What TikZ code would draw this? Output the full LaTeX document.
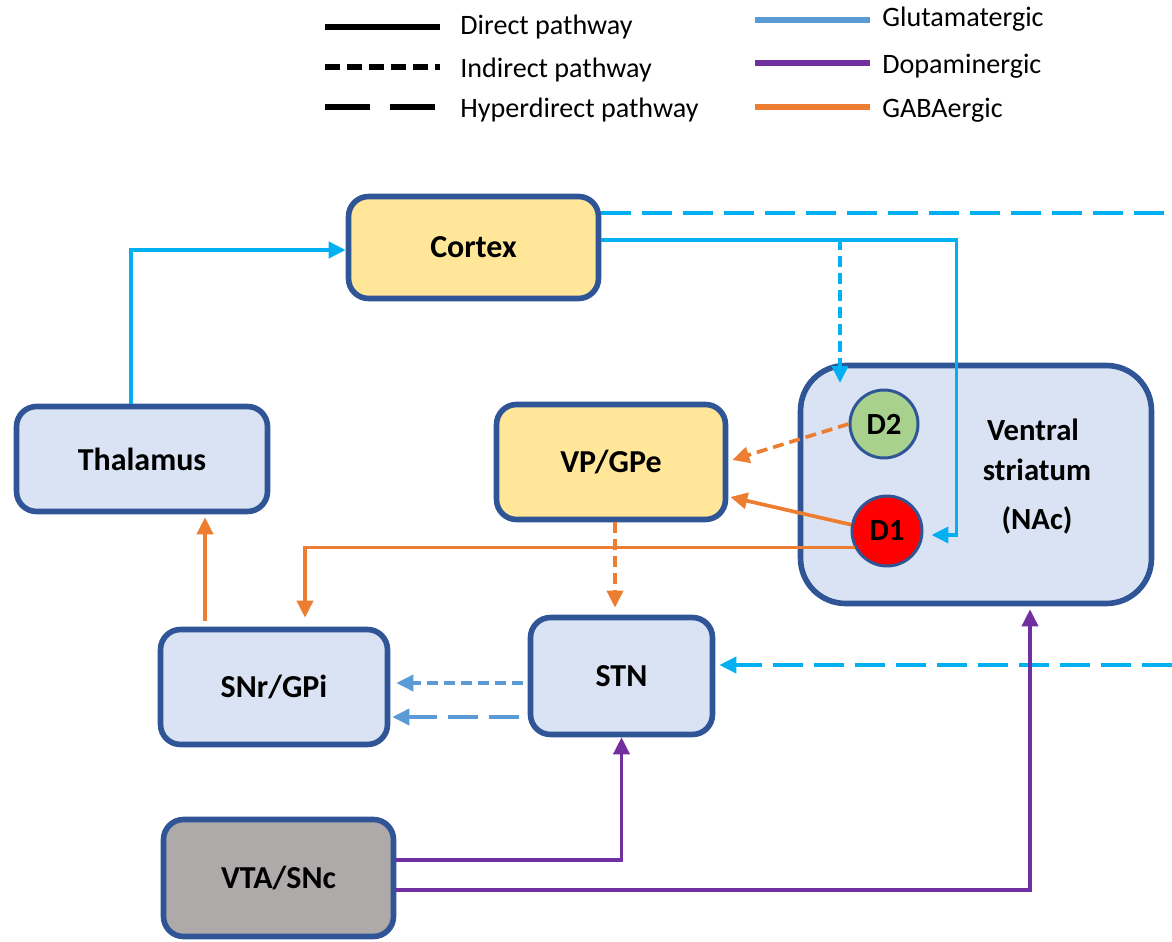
\documentclass[tikz,border=0pt]{standalone}
\usepackage{fontspec}
\setmainfont{Carlito}
\usetikzlibrary{arrows.meta,calc}
\definecolor{glut}{HTML}{00B0F0}
\definecolor{glutlight}{HTML}{5B9BD5}
\definecolor{dopa}{HTML}{7030A0}
\definecolor{gaba}{HTML}{ED7D31}
\definecolor{boxline}{HTML}{2F5597}
\definecolor{bluefill}{HTML}{DAE3F3}
\definecolor{yellowfill}{HTML}{FFE699}
\definecolor{grayfill}{HTML}{AEAAAA}
\definecolor{greenfill}{HTML}{A9D18E}
\definecolor{redfill}{HTML}{FF0000}
\begin{document}
\begin{tikzpicture}[x=0.02cm,y=-0.02cm,
  box/.style={draw=boxline, line width=3.2pt, rounded corners=0.4cm,
    font=\fontsize{18.2}{21}\selectfont\bfseries, align=center, inner sep=0pt},
  receptor/.style={circle, draw=boxline, line width=1.7pt, inner sep=0pt,
    font=\fontsize{17.5}{20}\selectfont\bfseries},
  label/.style={font=\fontsize{17.5}{20}\selectfont\bfseries, inner sep=0pt},
  legendtext/.style={anchor=west, font=\fontsize{16}{18}\selectfont, inner sep=0pt},
  legendline/.style={line width=3pt},
  conn/.style={line width=2.1pt, -{Triangle[length=0.34cm,width=0.32cm]}},
  shortdash/.style={dash pattern=on 0.22cm off 0.12cm},
  longdash/.style={dash pattern=on 0.6cm off 0.22cm}]

\useasboundingbox (0,0) rectangle (1172,942);

% legend
\node[legendtext] (lgdirect) at (460,27) {Direct pathway};
\node[legendtext] (lgindirect) at (460,70) {Indirect pathway};
\node[legendtext] (lghyper) at (460,110) {Hyperdirect pathway};
\node[legendtext] (lgglut) at (882,19) {Glutamatergic};
\node[legendtext] (lgdopa) at (882,66) {Dopaminergic};
\node[legendtext] (lggaba) at (882,110) {GABAergic};
\draw[legendline] ($(lgdirect.west)+(-135,0)$) -- ($(lgdirect.west)+(-20,0)$);
\draw[legendline, dash pattern=on 0.3cm off 0.14cm] ($(lgindirect.west)+(-135,-3)$) -- ($(lgindirect.west)+(-20,-3)$);
\draw[legendline, dash pattern=on 0.9cm off 0.4cm] ($(lghyper.west)+(-135,-3)$) -- ($(lghyper.west)+(-20,-3)$);
\draw[legendline, glutlight] ($(lgglut.west)+(-127,1)$) -- ($(lgglut.west)+(-12,1)$);
\draw[legendline, dopa] ($(lgdopa.west)+(-127,-3)$) -- ($(lgdopa.west)+(-12,-3)$);
\draw[legendline, gaba] ($(lggaba.west)+(-127,-3)$) -- ($(lggaba.west)+(-12,-3)$);

% regions
\node[box, fill=yellowfill, minimum width=5.0cm, minimum height=2.04cm] (cortex) at (473.5,247.5) {Cortex};
\node[box, fill=bluefill, minimum width=5.02cm, minimum height=2.10cm] (thal) at (142,459) {Thalamus};
\node[box, fill=yellowfill, minimum width=4.58cm, minimum height=2.30cm] (vp) at (611,462) {VP/GPe};
\node[box, fill=bluefill, rounded corners=0.9cm, minimum width=7.02cm, minimum height=4.76cm] (vs) at (976,484.5) {};
\node[box, fill=bluefill, minimum width=4.54cm, minimum height=2.30cm] (snr) at (274,687) {SNr/GPi};
\node[box, fill=bluefill, minimum width=3.64cm, minimum height=2.34cm] (stn) at (621.5,676) {STN};
\node[box, fill=grayfill, minimum width=4.60cm, minimum height=2.34cm] (vta) at (278.5,878) {VTA/SNc};

\node[label] (vs1) at (1033,430) {Ventral};
\node[label] (vs2) at (1037,470) {striatum};
\node[label] (vs3) at (1037,520) {(NAc)};

\node[receptor, fill=greenfill, minimum size=1.36cm] (d2) at (884,424) {D2};
\node[receptor, fill=redfill, minimum size=1.40cm] (d1) at (887,531) {D1};

% free ends at the right margin
\coordinate (hyperout) at (1172,213);
\coordinate (hyperin) at (1172,665);
\coordinate (ctxout) at ($(cortex.east)+(0,-7.5)$);

% glutamatergic
\draw[conn, glut] ($(thal.north)+(-11,0)$) |- ($(cortex.west)+(0,2.5)$);
\draw[line width=2.1pt, glut, longdash] ($(cortex.east)+(0,-34.5)$) -- (hyperout);
\draw[conn, glut, shortdash] (ctxout) -| ($(d2.center)+(-44,-41)$);
\draw[conn, glut] (ctxout) -| ($(d1.east)+(33,4)$) -- ($(d1.east)+(8,4)$);
\draw[conn, glut, longdash] (hyperin) -- ($(stn.east)+(4,-11)$);
\draw[conn, glutlight, shortdash] ($(stn.west)+(-5,7)$) -- ($(snr.east)+(6,-4)$);
\draw[conn, glutlight, longdash] ($(stn.west)+(-9,41)$) -- ($(snr.east)+(2,30)$);

% GABAergic
\draw[conn, gaba, shortdash] (d2.west) -- ($(vp.east)+(4,-2)$);
\draw[conn, gaba] (d1.170) -- ($(vp.east)+(2,35)$);
\draw[conn, gaba] (d1.207) -| ($(snr.north)+(31,-9)$);
\draw[conn, gaba, shortdash] ($(vp.south)+(4,0)$) -- ($(stn.north)+(-6.5,-7)$);
\draw[conn, gaba] ($(snr.north)+(-69,-6)$) -- ($(thal.south)+(63,3)$);

% dopaminergic
\draw[conn, dopa] ($(vta.east)+(0,-18)$) -| (stn.south);
\draw[conn, dopa] ($(vta.east)+(0,12)$) -| ($(vs.south)+(54,3)$);
\end{tikzpicture}
\end{document}
